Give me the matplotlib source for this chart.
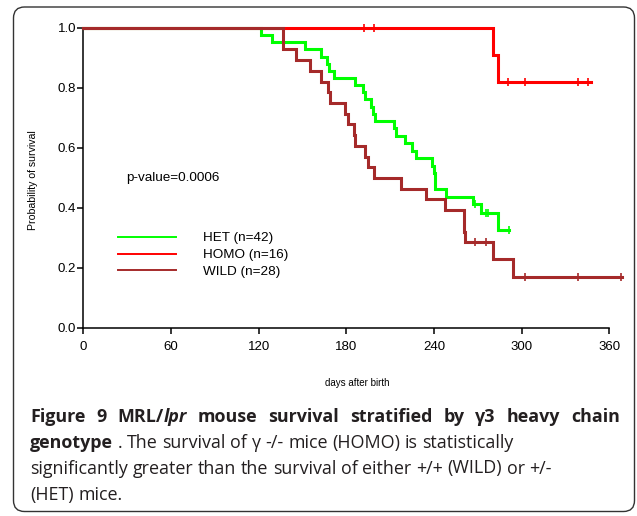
import matplotlib
matplotlib.use('Agg')
import matplotlib.pyplot as plt
from matplotlib.lines import Line2D
from matplotlib.patches import FancyBboxPatch
from matplotlib.transforms import IdentityTransform

# Kaplan-Meier steps (days, survival after the step)
het_days = [0, 121.9, 129.4, 151.5, 162.4, 166.8, 167.9, 171.5, 185.7, 191.4, 192.5,
            197.0, 198.2, 199.8, 212.6, 213.7, 219.9, 224.9, 227.9, 238.8, 239.7,
            240.6, 241.0, 247.9, 267.0, 272.3, 283.6, 291.1]
het_surv = [1.0, 0.977, 0.952, 0.929, 0.905, 0.881, 0.857, 0.833, 0.810, 0.786, 0.762,
            0.738, 0.714, 0.690, 0.666, 0.640, 0.616, 0.591, 0.566, 0.540, 0.516,
            0.488, 0.462, 0.438, 0.413, 0.382, 0.327, 0.327]
het_cens = [268.0, 275.7, 276.8, 291.1]

homo_days = [0, 280.7, 283.6, 347.4]
homo_surv = [1.0, 0.91, 0.82, 0.82]
homo_cens = [191.8, 198.7, 290.4, 302.3, 338.5, 345.4]

wild_days = [0, 136.7, 145.4, 155.0, 162.4, 167.5, 168.8, 178.8, 181.1, 185.2, 185.7,
             193.1, 194.8, 198.7, 217.6, 234.7, 247.7, 260.8, 261.5, 280.7, 294.3, 368.6]
wild_surv = [1.0, 0.929, 0.893, 0.857, 0.821, 0.786, 0.750, 0.714, 0.679, 0.643, 0.607,
             0.571, 0.536, 0.500, 0.464, 0.429, 0.393, 0.321, 0.286, 0.229, 0.171, 0.171]
wild_cens = [268.4, 275.7, 302.5, 338.5, 367.9]

labels = ['HET (n=42)', 'HOMO (n=16)', 'WILD (n=28)']
colors = ['#00ff00', '#ff0000', '#a52a2a']
xticks = [0, 60, 120, 180, 240, 300, 360]
yticks = [0.0, 0.2, 0.4, 0.6, 0.8, 1.0]

W, H = 637, 516
plt.rcParams['font.family'] = ['Liberation Sans', 'DejaVu Sans']

fig = plt.figure(figsize=(W / 100, H / 100), dpi=100)
ax = fig.add_axes([83.3 / W, 1 - 328 / H, (609.3 - 83.3) / W, 300 / H])


def surv_at(days, surv, t):
    s = surv[0]
    for d, v in zip(days, surv):
        if d <= t:
            s = v
    return s


groups = [(het_days, het_surv, het_cens), (homo_days, homo_surv, homo_cens),
          (wild_days, wild_surv, wild_cens)]
for (days, surv, cens), c in zip(groups, colors):
    ax.step(days, surv, where='post', color=c, lw=2.2, clip_on=False,
            solid_joinstyle='miter', zorder=3)
    ax.plot(cens, [surv_at(days, surv, t) for t in cens], ls='none', marker='|',
            ms=6, mew=1.2, color=c, clip_on=False, zorder=3)

ax.set_xlim(0, 360)
ax.set_ylim(0, 1.0)
ax.set_xticks(xticks)
ax.set_yticks(yticks)
ax.set_yticklabels(['%.1f' % v for v in yticks])
ax.spines['top'].set_visible(False)
ax.spines['right'].set_visible(False)
for s in ('left', 'bottom'):
    ax.spines[s].set_linewidth(1.1)
ax.tick_params(axis='both', direction='out', length=4.5, width=1.1, labelsize=9.5)
ax.tick_params(axis='y', pad=0.5)
ax.tick_params(axis='x', pad=4.5)

ax.text(29, 0.5, 'p-value=0.0006', fontsize=9.7, va='center', ha='left')

handles = [Line2D([], [], color=c, lw=1.4) for c in colors]
ax.legend(handles, labels, loc='center left', bbox_to_anchor=(0.066, 0.243),
          frameon=False, fontsize=9.7, handlelength=4.3, handletextpad=2.0,
          labelspacing=0.33, borderpad=0, borderaxespad=0)

fig.text(33 / W, 1 - 180 / H, 'Probability of survival', rotation=90,
         fontsize=7.6, ha='center', va='center')
fig.text(357 / W, 1 - 383 / H, 'days after birth', fontsize=7,
         ha='center', va='center')

# caption
cap_font = ['Open Sans', 'DejaVu Sans']
cap_color = '#231f20'
cap_size = 12.9
renderer = fig.canvas.get_renderer()


def put_line(tokens, y, x0=30, x1=None):
    # tokens: list of words, each a list of (text, weight, style)
    objs = []
    widths = []
    for word in tokens:
        parts = []
        w = 0
        for txt, weight, style in word:
            t = fig.text(0, 0, txt, fontsize=cap_size, family=cap_font, weight=weight,
                         style=style, color=cap_color, transform=IdentityTransform(),
                         va='baseline')
            bw = t.get_window_extent(renderer).width
            parts.append((t, bw))
            w += bw
        objs.append(parts)
        widths.append(w)
    sp = fig.text(0, 0, 'a a', fontsize=cap_size, family=cap_font)
    sp2 = fig.text(0, 0, 'aa', fontsize=cap_size, family=cap_font)
    gap = sp.get_window_extent(renderer).width - sp2.get_window_extent(renderer).width
    sp.remove()
    sp2.remove()
    if x1 is not None and len(tokens) > 1:
        gap = (x1 - x0 - sum(widths)) / (len(tokens) - 1)
    x = x0
    for parts in objs:
        for t, bw in parts:
            t.set_position((x, H - y))
            x += bw
        x += gap


B, R = 'bold', 'normal'
line1 = [[('Figure', B, 'normal')], [('9', B, 'normal')],
         [('MRL/', B, 'normal'), ('lpr', B, 'italic')], [('mouse', B, 'normal')],
         [('survival', B, 'normal')], [('stratified', B, 'normal')], [('by', B, 'normal')],
         [('γ3', B, 'normal')], [('heavy', B, 'normal')], [('chain', B, 'normal')]]
line2 = [[('genotype', B, 'normal')]] + [[(w, R, 'normal')] for w in
         '. The survival of γ -/- mice (HOMO) is statistically'.split()]
line3 = [[(w, R, 'normal')] for w in
         'significantly greater than the survival of either +/+ (WILD) or +/-'.split()]
line4 = [[(w, R, 'normal')] for w in '(HET) mice.'.split()]

put_line(line1, 421.7, x1=620)
put_line(line2, 448)
put_line(line3, 473.5)
put_line(line4, 500)

border = FancyBboxPatch((13.5, H - 511.5), 621, 504.5,
                        boxstyle='round,pad=0,rounding_size=11',
                        transform=IdentityTransform(), fill=False,
                        edgecolor='#333333', lw=1.0)
fig.add_artist(border)

fig.savefig('out.png', dpi=100)
